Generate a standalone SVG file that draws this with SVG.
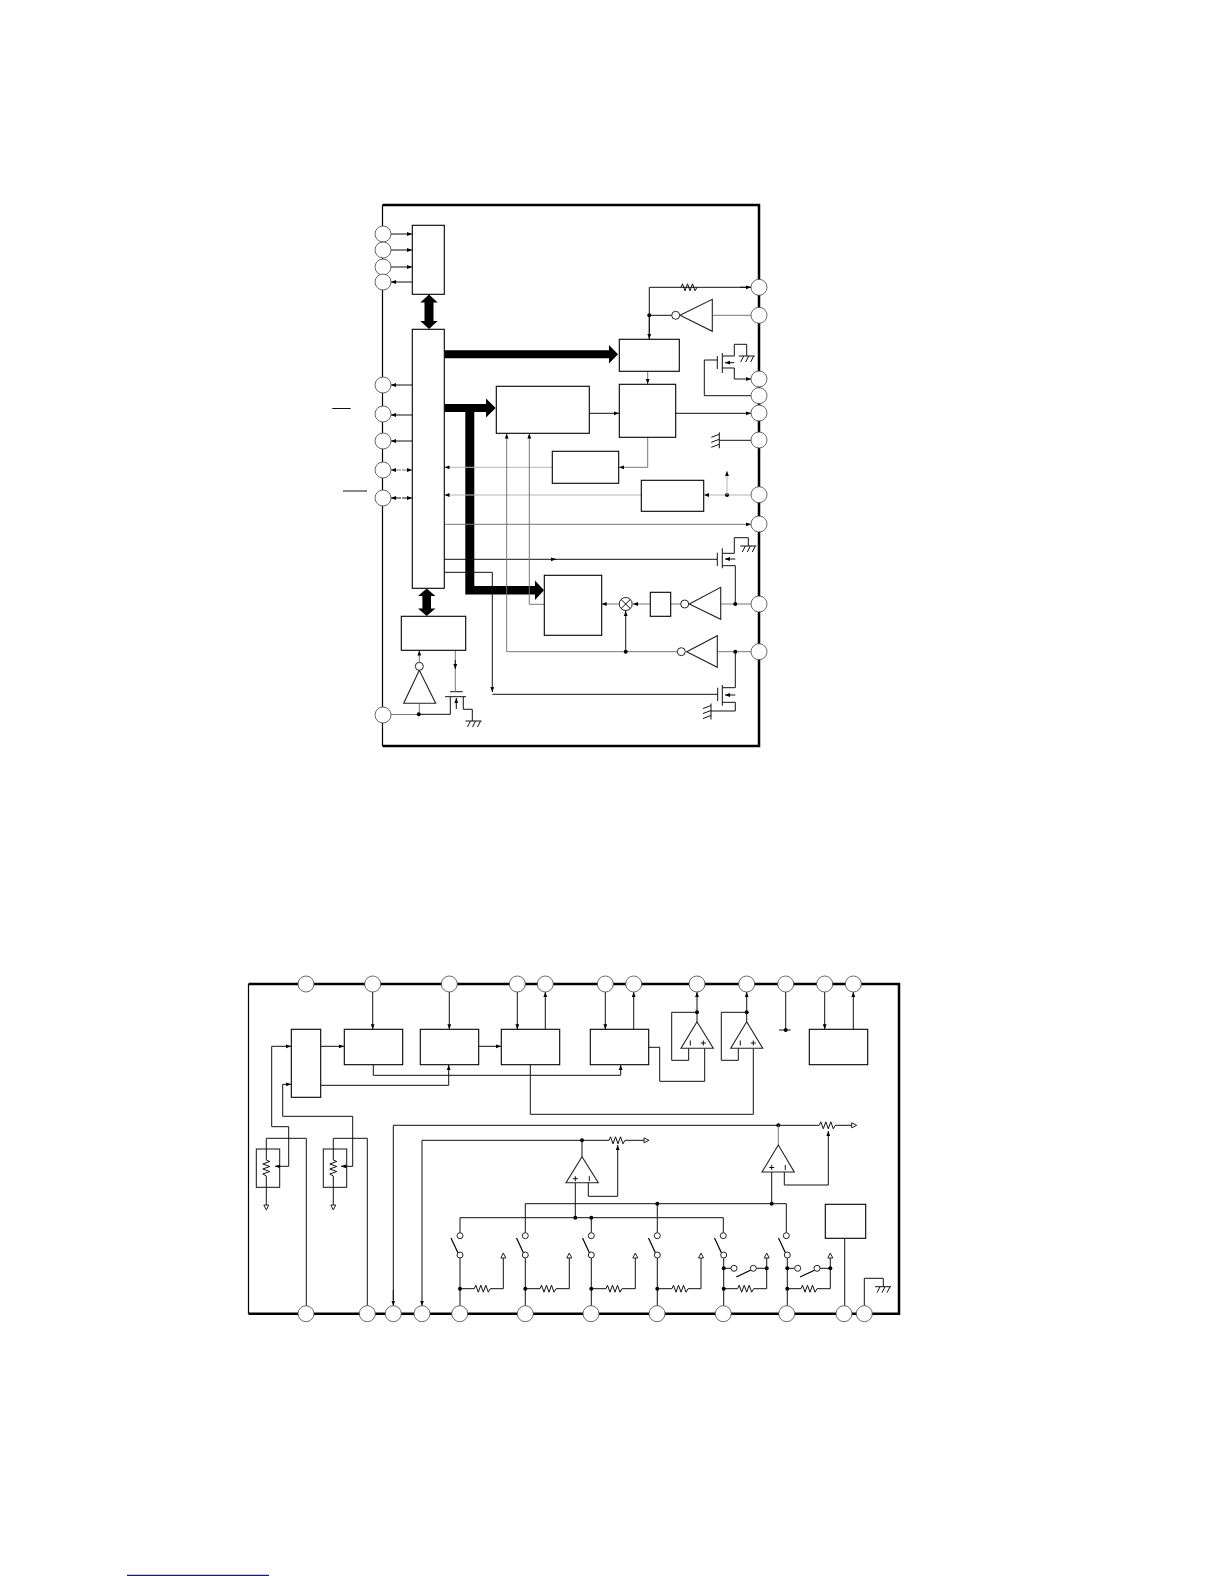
<svg xmlns="http://www.w3.org/2000/svg" width="1224" height="1584" viewBox="0 0 1224 1584">
<style>
.w{fill:none;stroke:#111;stroke-width:1}
.g{fill:none;stroke:#777;stroke-width:1}
.l{fill:none;stroke:#b5b5b5;stroke-width:1}
.a{marker-end:url(#ah)}
.b{fill:#fff;stroke:#000;stroke-width:1.1}
.t{fill:#fff;stroke:#222;stroke-width:1.1}
.p{fill:#fff;stroke:#444;stroke-width:.8}
.s{fill:#fff;stroke:#222;stroke-width:1}
.d{fill:#000}
.k{fill:none;stroke:#000;stroke-width:2.5}
.h{fill:none;stroke:#000;stroke-width:1.2}
.bus{fill:#000;stroke:none}
</style>
<defs>
<marker id="ah" markerUnits="userSpaceOnUse" markerWidth="6" markerHeight="5" refX="5" refY="2.5" orient="auto"><path d="M0 .6L5 2.5L0 4.4z" fill="#000"/></marker>
<path id="rh" class="w" d="M0 0l1.5-3.5l2.5 7l2.5-7l2.5 7l2.5-7l2.5 7l2-3.5"/>
<path id="gh" class="w" d="M-8 0H8M-3 0L-6 6M2 0L-1 6M7 0L4 6"/>
<path id="gv" class="w" d="M0-8V8M0-6L-8-3M0-1L-8 2M0 4L-8 7"/>
<polygon id="tu" class="s" points="-2.5,5 2.5,5 0,0"/>
<polygon id="tr" class="s" points="0,-2.5 0,2.5 5,0"/>
<polygon id="td" class="s" points="-2.5,0 2.5,0 0,5"/>
<path id="plus" class="w" d="M-2.5 0H2.5M0-2.5V2.5"/>
<path id="minus" class="w" d="M0-2.5V2.5"/>
</defs>

<g id="frame-top">
<path class="k" d="M382.5 205H759V746H382.5"/>
<path class="h" d="M382.5 205V746"/>
</g>
<g id="frame-bottom">
<path class="k" d="M248.5 984H899V1313.7H248.5"/>
<path class="h" d="M248.5 984V1313.7"/>
</g>

<g id="connectors">
<!-- upper chip: left pins -->
<path class="w a" d="M391 234H412"/>
<path class="w a" d="M391 250H412"/>
<path class="w a" d="M391 267H412"/>
<path class="w a" d="M412 282H391"/>
<path class="w a" d="M412 385H391"/>
<path class="w a" d="M412 415H391"/>
<path class="w a" d="M412 441H391"/>
<path class="g a" d="M401 470H391"/><path class="g a" d="M402 470H412"/>
<path class="w a" d="M401 498H391"/><path class="w a" d="M402 498H412"/>
<!-- buses -->
<path class="bus" d="M420.3 302.5L429 294.5L437.7 302.5H433.5V321H437.7L429 329L420.3 321H424.5V302.5Z"/>
<path class="bus" d="M444.5 350.3H609V345L618 354.3L609 363.6V358.3H444.5Z"/>
<path class="bus" d="M444.5 404H486V398.5L495.7 408L486 417.5V412H474.3V586H535V580.5L544 590.3L535 600V594.5H465.3V412H444.5Z"/>
<path class="bus" d="M418 596L426.7 588.5L435.4 596H431V608.5H435.4L426.7 616L418 608.5H422.4V596Z"/>
<!-- right side top -->
<path class="w a" d="M751 287.3H649.3V339" style="marker-end:none"/>
<path class="w a" d="M740 287.3H751"/>
<path class="w a" d="M649.3 315.3V339"/>
<use href="#rh" x="681" y="287.3"/>
<path class="w" d="M649.3 315.3H672"/>
<path class="g" d="M712 315.3H751"/>
<circle class="d" cx="649.3" cy="315.3" r="2"/>
<path class="g a" d="M647.7 371V384"/>
<path class="w a" d="M589 413.3H619"/>
<path class="w a" d="M675.7 413.3H751"/>
<path class="g a" d="M647.7 437V467.3H619"/>
<path class="l a" d="M552 467.3H444.5"/>
<path class="l a" d="M641 495H444.5"/>
<path class="l a" d="M751 495H704"/>
<circle class="d" cx="727" cy="495" r="2"/>
<path class="l a" d="M727 495V471"/>
<path class="g a" d="M444.5 524.3H751"/>
<!-- MOS 1 -->
<path class="w" d="M717.3 356V369M722.3 353V373M722.3 356H734.3V344.3H746.7V356M722.3 368H734.3V379"/>
<path class="w a" d="M734.3 379H751"/>
<path class="w a" d="M734.3 362.7H725"/>
<use href="#gh" x="746.7" y="356"/>
<path class="w" d="M717.3 360H704.3V395.7H751"/>
<use href="#gv" x="719.3" y="440.3"/>
<path class="w" d="M719.3 440.3H751"/>
<!-- MOS 2 -->
<path class="w" d="M553 559.3H717.3M717.3 552.7V566M722.3 548.3V568.3M722.3 553.3H734.3V537.7H748.3V546M722.3 565.7H735.3V604"/>
<path class="w a" d="M444.5 559.3H556"/>
<path class="w a" d="M735.3 559H725"/>
<use href="#gh" x="748.3" y="546"/>
<!-- row 604 -->
<path class="g" d="M751 604H720.7"/>
<circle class="d" cx="735.3" cy="604" r="2"/>
<path class="g" d="M689 604H670.7"/>
<path class="g a" d="M650.3 604H633"/>
<path class="g a" d="M618.7 604H601.7"/>
<!-- row 651 -->
<path class="g" d="M751 651.7H717.3"/>
<circle class="d" cx="735.3" cy="651.7" r="2"/>
<path class="g a" d="M677 651.7H506.7V433.5"/>
<circle class="d" cx="625.7" cy="651.7" r="2"/>
<path class="w a" d="M625.7 651.7V611"/>
<path class="g a" d="M544.3 604.3H529.3V433.5"/>
<!-- MOS 3 -->
<path class="w a" d="M444.5 572.3H492.3V692"/>
<path class="w" d="M492.3 694.3H717.7M717.7 687.7V701M722.3 685V705.7M722.3 687.7H735.3V651.7M722.3 702.3H735.3V711H711"/>
<path class="w a" d="M735.3 695H725"/>
<use href="#gv" x="711" y="711.5"/>
<!-- lower left -->
<path class="g a" d="M419.3 662V650.5"/>
<path class="g" d="M419.3 703.3V714.3M391 714.5H418"/>
<path class="w" d="M418 714.3H450.3V696.7M445 696.7H466M450 691.7H462.7M463.3 696.7V709.3H472.3V721"/>
<circle class="d" cx="418.7" cy="714.3" r="2"/>
<path class="w a" d="M456.3 709V698"/>
<use href="#gh" x="473.5" y="721"/>
<path class="g" d="M455.3 650.5V691.7"/>
<path class="w a" d="M455.3 660V669"/>
<!-- overlines -->
<path class="w" d="M332.3 408.5H350.7M343 491H367"/>

<!-- lower chip -->
<path class="w a" d="M372.7 992V1029.3"/>
<path class="w a" d="M449.3 992V1029.3"/>
<path class="w a" d="M517.3 992V1029.3"/>
<path class="w a" d="M545.3 1029.3V992"/>
<path class="w a" d="M605.3 992V1029.3"/>
<path class="w a" d="M633.7 1029.3V992"/>
<path class="w a" d="M320.7 1046.3H344"/>
<path class="w a" d="M478.7 1046.3H501"/>
<path class="w a" d="M373.3 1064.7V1075.3H620.7V1065"/>
<path class="w a" d="M320.7 1085.3H448.7V1065"/>
<path class="w" d="M530.3 1064.7V1114.3H753.3V1048.3"/>
<path class="w a" d="M288.7 1166.3V1126.7H271.7V1046.3H291"/>
<path class="w a" d="M288.7 1166.3H275"/>
<path class="w a" d="M352.7 1166.3V1116.3H282.7V1084.3H291"/>
<path class="w a" d="M352.7 1166.3H341"/>
<path class="w" d="M266.3 1160V1138.3H306.3V1305.7"/>
<path class="w" d="M333.3 1160V1138.3H367.3V1305.7"/>
<path class="w" d="M266.3 1176V1205M333.3 1176V1205"/>
<use href="#rh" transform="translate(266.3 1160) rotate(90)"/>
<use href="#rh" transform="translate(333.3 1160) rotate(90)"/>
<use href="#td" x="266.3" y="1205"/>
<use href="#td" x="333.3" y="1205"/>
<path class="w" d="M393.3 1300V1125.3H819"/>
<path class="w a" d="M393.3 1290V1305.7"/>
<use href="#rh" x="819.3" y="1125.3"/>
<path class="w" d="M835.3 1125.3H851.7"/>
<use href="#tr" x="851.7" y="1125.3"/>
<circle class="d" cx="778.3" cy="1125.3" r="2"/>
<path class="g" d="M778.3 1125.3V1145"/>
<path class="w" d="M422 1140.3H609"/>
<path class="w a" d="M422 1140.3V1305.7"/>
<use href="#rh" x="609" y="1140.3"/>
<path class="w" d="M625 1140.3H644"/>
<use href="#tr" x="644" y="1140.3"/>
<circle class="d" cx="582" cy="1140.3" r="2"/>
<path class="w" d="M582 1140.3V1156.7"/>
<!-- op amp wires -->
<path class="w" d="M697 1021.7V1012.3H671.7V1060.3H688.7V1048.3"/>
<path class="w a" d="M697 1012.3V992"/>
<circle class="d" cx="697" cy="1012.3" r="2"/>
<path class="w" d="M704.7 1048.3V1081.3H659.7V1047.3H648.7"/>
<path class="w" d="M746.7 1021.7V1012.3H721.3V1060.3H738.3V1048.3"/>
<path class="w a" d="M746.7 1012.3V992"/>
<circle class="d" cx="746.7" cy="1012.3" r="2"/>
<path class="w" d="M785.7 992V1030M779 1030H790.7"/>
<circle class="d" cx="785.7" cy="1030" r="2"/>
<path class="w a" d="M824.7 992V1029.3"/>
<path class="w a" d="M853.3 1029.3V992"/>
<path class="w a" d="M588.3 1182.7V1196.3H617.7V1145"/>
<path class="w a" d="M784.3 1172V1185H828.3V1131"/>
<path class="w" d="M575.3 1182.7V1217.7"/>
<circle class="d" cx="575.3" cy="1217.7" r="2"/>
<path class="w" d="M771.7 1172V1203.7"/>
<circle class="d" cx="771.7" cy="1203.7" r="2"/>
<path class="w" d="M525.3 1232.7V1203.7H786.3V1232.7"/>
<path class="w" d="M460 1232.7V1217.7H723.3V1232.7"/>
<circle class="d" cx="591.3" cy="1217.7" r="2"/>
<circle class="d" cx="657.3" cy="1203.7" r="2"/>
<path class="w" d="M657.3 1203.7V1232.7M591.3 1217.7V1232.7"/>
<!-- switch columns -->
<path class="w" d="M460 1258V1305.7M525.3 1258V1305.7M591.3 1258V1305.7M657.3 1258V1305.7M723.7 1258V1305.7M787.3 1258V1305.7"/>
<path class="h" d="M458 1253L451 1238M523.5 1253L516.5 1238M589.5 1253L582.5 1238M655.5 1253L648.5 1238M721.5 1253L714.5 1238M785.5 1253L778.5 1238"/>
<path class="w" d="M460 1288.7H474.3M490.3 1288.7H503.3V1258M525.3 1288.7H540M556 1288.7H569.3V1258M591.3 1288.7H606M622 1288.7H635.3V1258M657.3 1288.7H672M688 1288.7H701V1258M723.7 1288.7H737.7M753.7 1288.7H766.7V1258M787.3 1288.7H801M817 1288.7H830.3V1258"/>
<use href="#rh" x="474.3" y="1288.7"/><use href="#rh" x="540" y="1288.7"/><use href="#rh" x="606" y="1288.7"/><use href="#rh" x="672" y="1288.7"/><use href="#rh" x="737.7" y="1288.7"/><use href="#rh" x="801" y="1288.7"/>
<use href="#tu" x="503.3" y="1253"/><use href="#tu" x="569.3" y="1253"/><use href="#tu" x="635.3" y="1253"/><use href="#tu" x="701" y="1253"/><use href="#tu" x="766.7" y="1253"/><use href="#tu" x="830.3" y="1253"/>
<g class="d"><circle cx="460" cy="1288.7" r="2"/><circle cx="525.3" cy="1288.7" r="2"/><circle cx="591.3" cy="1288.7" r="2"/><circle cx="657.3" cy="1288.7" r="2"/><circle cx="723.7" cy="1288.7" r="2"/><circle cx="787.3" cy="1288.7" r="2"/><circle cx="723.7" cy="1268.3" r="2"/><circle cx="766.7" cy="1268.3" r="2"/><circle cx="787.3" cy="1268.3" r="2"/><circle cx="830.3" cy="1268.3" r="2"/></g>
<path class="w" d="M723.7 1268.3H731M756.3 1268.3H766.7M787.3 1268.3H794.7M820 1268.3H830.3"/>
<path class="h" d="M736.3 1277L751 1270M800 1277L815 1270"/>
<path class="w" d="M844.7 1238.3V1305.7"/>
<path class="w" d="M864.3 1305.7V1278.3H883.3V1286.7"/>
<use href="#gh" x="883" y="1286.7"/>
</g>

<g id="boxes-top">
<rect id="n-a" class="b" x="412.3" y="225.3" width="32" height="69"/>
<rect id="n-b" class="b" x="412.3" y="329.3" width="32" height="259"/>
<rect id="n-c" class="b" x="496.3" y="386.3" width="93" height="47"/>
<rect id="n-d" class="b" x="619.3" y="339.3" width="60" height="32"/>
<rect id="n-e" class="b" x="619.3" y="384.3" width="56.4" height="53"/>
<rect id="n-f" class="b" x="552.3" y="451.3" width="66.4" height="32"/>
<rect id="n-g" class="b" x="641.3" y="480.3" width="62.4" height="31"/>
<rect id="n-h" class="b" x="650.3" y="592.3" width="20.4" height="24"/>
<rect id="n-i" class="b" x="544.3" y="575.3" width="57.4" height="60"/>
<rect id="n-j" class="b" x="401.3" y="616.3" width="64.4" height="34"/>
<g id="mixer"><circle class="s" cx="625.7" cy="604" r="6.5"/><path class="w" d="M621 599.4L630.4 608.6M630.4 599.4L621 608.6"/></g>
<g id="inv-1"><polygon class="t" points="680,315.3 712.3,299.3 712.3,331.3"/><circle class="s" cx="675.7" cy="315.3" r="4"/></g>
<g id="inv-2"><polygon class="t" points="689.3,604 720.7,587.3 720.7,619.3"/><circle class="s" cx="684.7" cy="604" r="4"/></g>
<g id="inv-3"><polygon class="t" points="686.7,651.7 717.3,635.7 717.3,667.3"/><circle class="s" cx="681.3" cy="651.7" r="4"/></g>
<g id="inv-4"><polygon class="t" points="419.3,670.3 403.7,703.3 435.7,703.3"/><circle class="s" cx="419.3" cy="666.3" r="4"/></g>
</g>
<g id="pins-top">
<circle class="p" cx="383" cy="234" r="8"/><circle class="p" cx="383" cy="250" r="8"/><circle class="p" cx="383" cy="267" r="8"/><circle class="p" cx="383" cy="282" r="8"/>
<circle class="p" cx="383" cy="385" r="8"/><circle class="p" cx="383" cy="414" r="8"/><circle class="p" cx="383" cy="441" r="8"/><circle class="p" cx="383" cy="470" r="8"/><circle class="p" cx="383" cy="498" r="8"/><circle class="p" cx="383" cy="715" r="8"/>
<circle class="p" cx="759" cy="287.3" r="8"/><circle class="p" cx="759" cy="315.3" r="8"/><circle class="p" cx="759" cy="379" r="8"/><circle class="p" cx="759" cy="395.7" r="8"/><circle class="p" cx="759" cy="413" r="8"/><circle class="p" cx="759" cy="440" r="8"/><circle class="p" cx="759" cy="494.7" r="8"/><circle class="p" cx="759" cy="524" r="8"/><circle class="p" cx="759" cy="604" r="8"/><circle class="p" cx="759" cy="651.7" r="8"/>
</g>

<g id="boxes-bottom">
<rect id="m-k" class="b" x="291.3" y="1029.3" width="29.4" height="68"/>
<rect id="m-l" class="b" x="344.3" y="1029.3" width="58.4" height="35.4"/>
<rect id="m-m" class="b" x="420.3" y="1029.3" width="58.4" height="35.4"/>
<rect id="m-n" class="b" x="501.3" y="1029.3" width="58.4" height="35.4"/>
<rect id="m-o" class="b" x="590.3" y="1029.3" width="58.4" height="35.4"/>
<rect id="m-p" class="b" x="809.3" y="1029.3" width="58.4" height="35.4"/>
<rect id="m-q" class="b" x="825.3" y="1204.3" width="40.4" height="34"/>
<rect id="pot-1" class="w" x="256.3" y="1149" width="23.4" height="38.3"/>
<rect id="pot-2" class="w" x="323.3" y="1149" width="23.4" height="38.3"/>
<g id="amp-1"><polygon class="t" points="697,1021.7 681,1048.3 713.3,1048.3" style="fill:none"/><use href="#minus" x="690.3" y="1043"/><use href="#plus" x="703.3" y="1043"/></g>
<g id="amp-2"><polygon class="t" points="746.7,1021.7 730.7,1048.3 762.7,1048.3" style="fill:none"/><use href="#minus" x="740.3" y="1043"/><use href="#plus" x="753.3" y="1043"/></g>
<g id="amp-3"><polygon class="t" points="582,1156.7 566,1182.7 598.3,1182.7" style="fill:none"/><use href="#plus" x="575.3" y="1178.7"/><use href="#minus" x="589.3" y="1178.7"/></g>
<g id="amp-4"><polygon class="t" points="778.3,1145 762,1172 794.3,1172" style="fill:none"/><use href="#plus" x="771.7" y="1167.5"/><use href="#minus" x="785.3" y="1167.5"/></g>
</g>
<g id="switches">
<circle class="s" cx="460" cy="1235.7" r="3"/><circle class="s" cx="460" cy="1255" r="3"/>
<circle class="s" cx="525.3" cy="1235.7" r="3"/><circle class="s" cx="525.3" cy="1255" r="3"/>
<circle class="s" cx="591.3" cy="1235.7" r="3"/><circle class="s" cx="591.3" cy="1255" r="3"/>
<circle class="s" cx="657.3" cy="1235.7" r="3"/><circle class="s" cx="657.3" cy="1255" r="3"/>
<circle class="s" cx="723.3" cy="1235.7" r="3"/><circle class="s" cx="723.7" cy="1255" r="3"/>
<circle class="s" cx="786.3" cy="1235.7" r="3"/><circle class="s" cx="787.3" cy="1255" r="3"/>
<circle class="s" cx="734" cy="1268.3" r="3"/><circle class="s" cx="753.3" cy="1268.3" r="3"/>
<circle class="s" cx="797.7" cy="1268.3" r="3"/><circle class="s" cx="817" cy="1268.3" r="3"/>
</g>
<g id="pins-bottom">
<circle class="p" cx="306" cy="984" r="8"/><circle class="p" cx="372.7" cy="984" r="8"/><circle class="p" cx="449.3" cy="984" r="8"/><circle class="p" cx="517.3" cy="984" r="8"/><circle class="p" cx="545.3" cy="984" r="8"/><circle class="p" cx="605.3" cy="984" r="8"/><circle class="p" cx="633.7" cy="984" r="8"/><circle class="p" cx="697" cy="984" r="8"/><circle class="p" cx="746.7" cy="984" r="8"/><circle class="p" cx="785.7" cy="984" r="8"/><circle class="p" cx="824.7" cy="984" r="8"/><circle class="p" cx="853.3" cy="984" r="8"/>
<circle class="p" cx="306" cy="1313.7" r="8"/><circle class="p" cx="367.3" cy="1313.7" r="8"/><circle class="p" cx="393.3" cy="1313.7" r="8"/><circle class="p" cx="422" cy="1313.7" r="8"/><circle class="p" cx="459.7" cy="1313.7" r="8"/><circle class="p" cx="525.3" cy="1313.7" r="8"/><circle class="p" cx="591" cy="1313.7" r="8"/><circle class="p" cx="657" cy="1313.7" r="8"/><circle class="p" cx="723.3" cy="1313.7" r="8"/><circle class="p" cx="786.7" cy="1313.7" r="8"/><circle class="p" cx="844" cy="1313.7" r="8"/><circle class="p" cx="864.3" cy="1313.7" r="8"/>
</g>
<path id="footer-rule" d="M127 1575.4H269" fill="none" stroke="#1a1a80" stroke-width="1.2"/>
</svg>
